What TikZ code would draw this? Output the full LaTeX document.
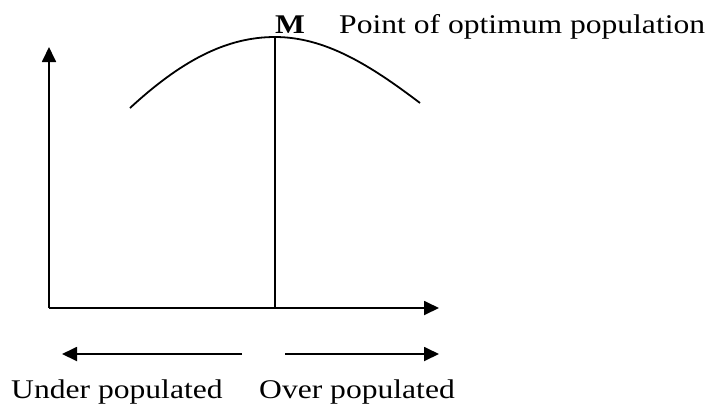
\documentclass[tikz,border=0pt]{standalone}
\usepackage{fontspec}
\setmainfont{Liberation Serif}[FakeStretch=1.17]
\usetikzlibrary{arrows.meta}
\begin{document}
\begin{tikzpicture}[x=1pt,y=-1pt,
  axis/.style={line width=1.8pt,-{Triangle[length=15pt,width=14pt]}},
  lbl/.style={inner sep=0pt,font=\fontsize{27}{31}\selectfont}]
\useasboundingbox (0,0) rectangle (712,408);
\coordinate (O) at (49,308);
\coordinate (Ytop) at (49,47);
\coordinate (Xend) at (439,308);
\coordinate (Mtop) at (275,37);
\coordinate (Mbot) at (275,308);
\coordinate (Cl) at (130,108);
\coordinate (Cr) at (420,103);
\coordinate (UL1) at (242,354);
\coordinate (UL2) at (62,354);
\coordinate (OR1) at (285,354);
\coordinate (OR2) at (439,354);
\draw[axis] (O) -- (Ytop);
\draw[axis] (O) -- (Xend);
\draw[line width=1.8pt] (Mbot) -- (Mtop);
\draw[line width=1.8pt] (Cl) .. controls (180,62) and (225,37) .. (Mtop)
  .. controls (325,37) and (370,65) .. (Cr);
\draw[axis] (UL1) -- (UL2);
\draw[axis] (OR1) -- (OR2);
\node[lbl,anchor=base west,font=\fontsize{27}{31}\selectfont\bfseries] (M) at (275,33) {M};
\node[lbl,anchor=base west] (pt) at (339,33) {Point of optimum population};
\node[lbl,anchor=base west] (under) at (11,398) {Under populated};
\node[lbl,anchor=base west] (over) at (259,398) {Over populated};
\end{tikzpicture}
\end{document}
